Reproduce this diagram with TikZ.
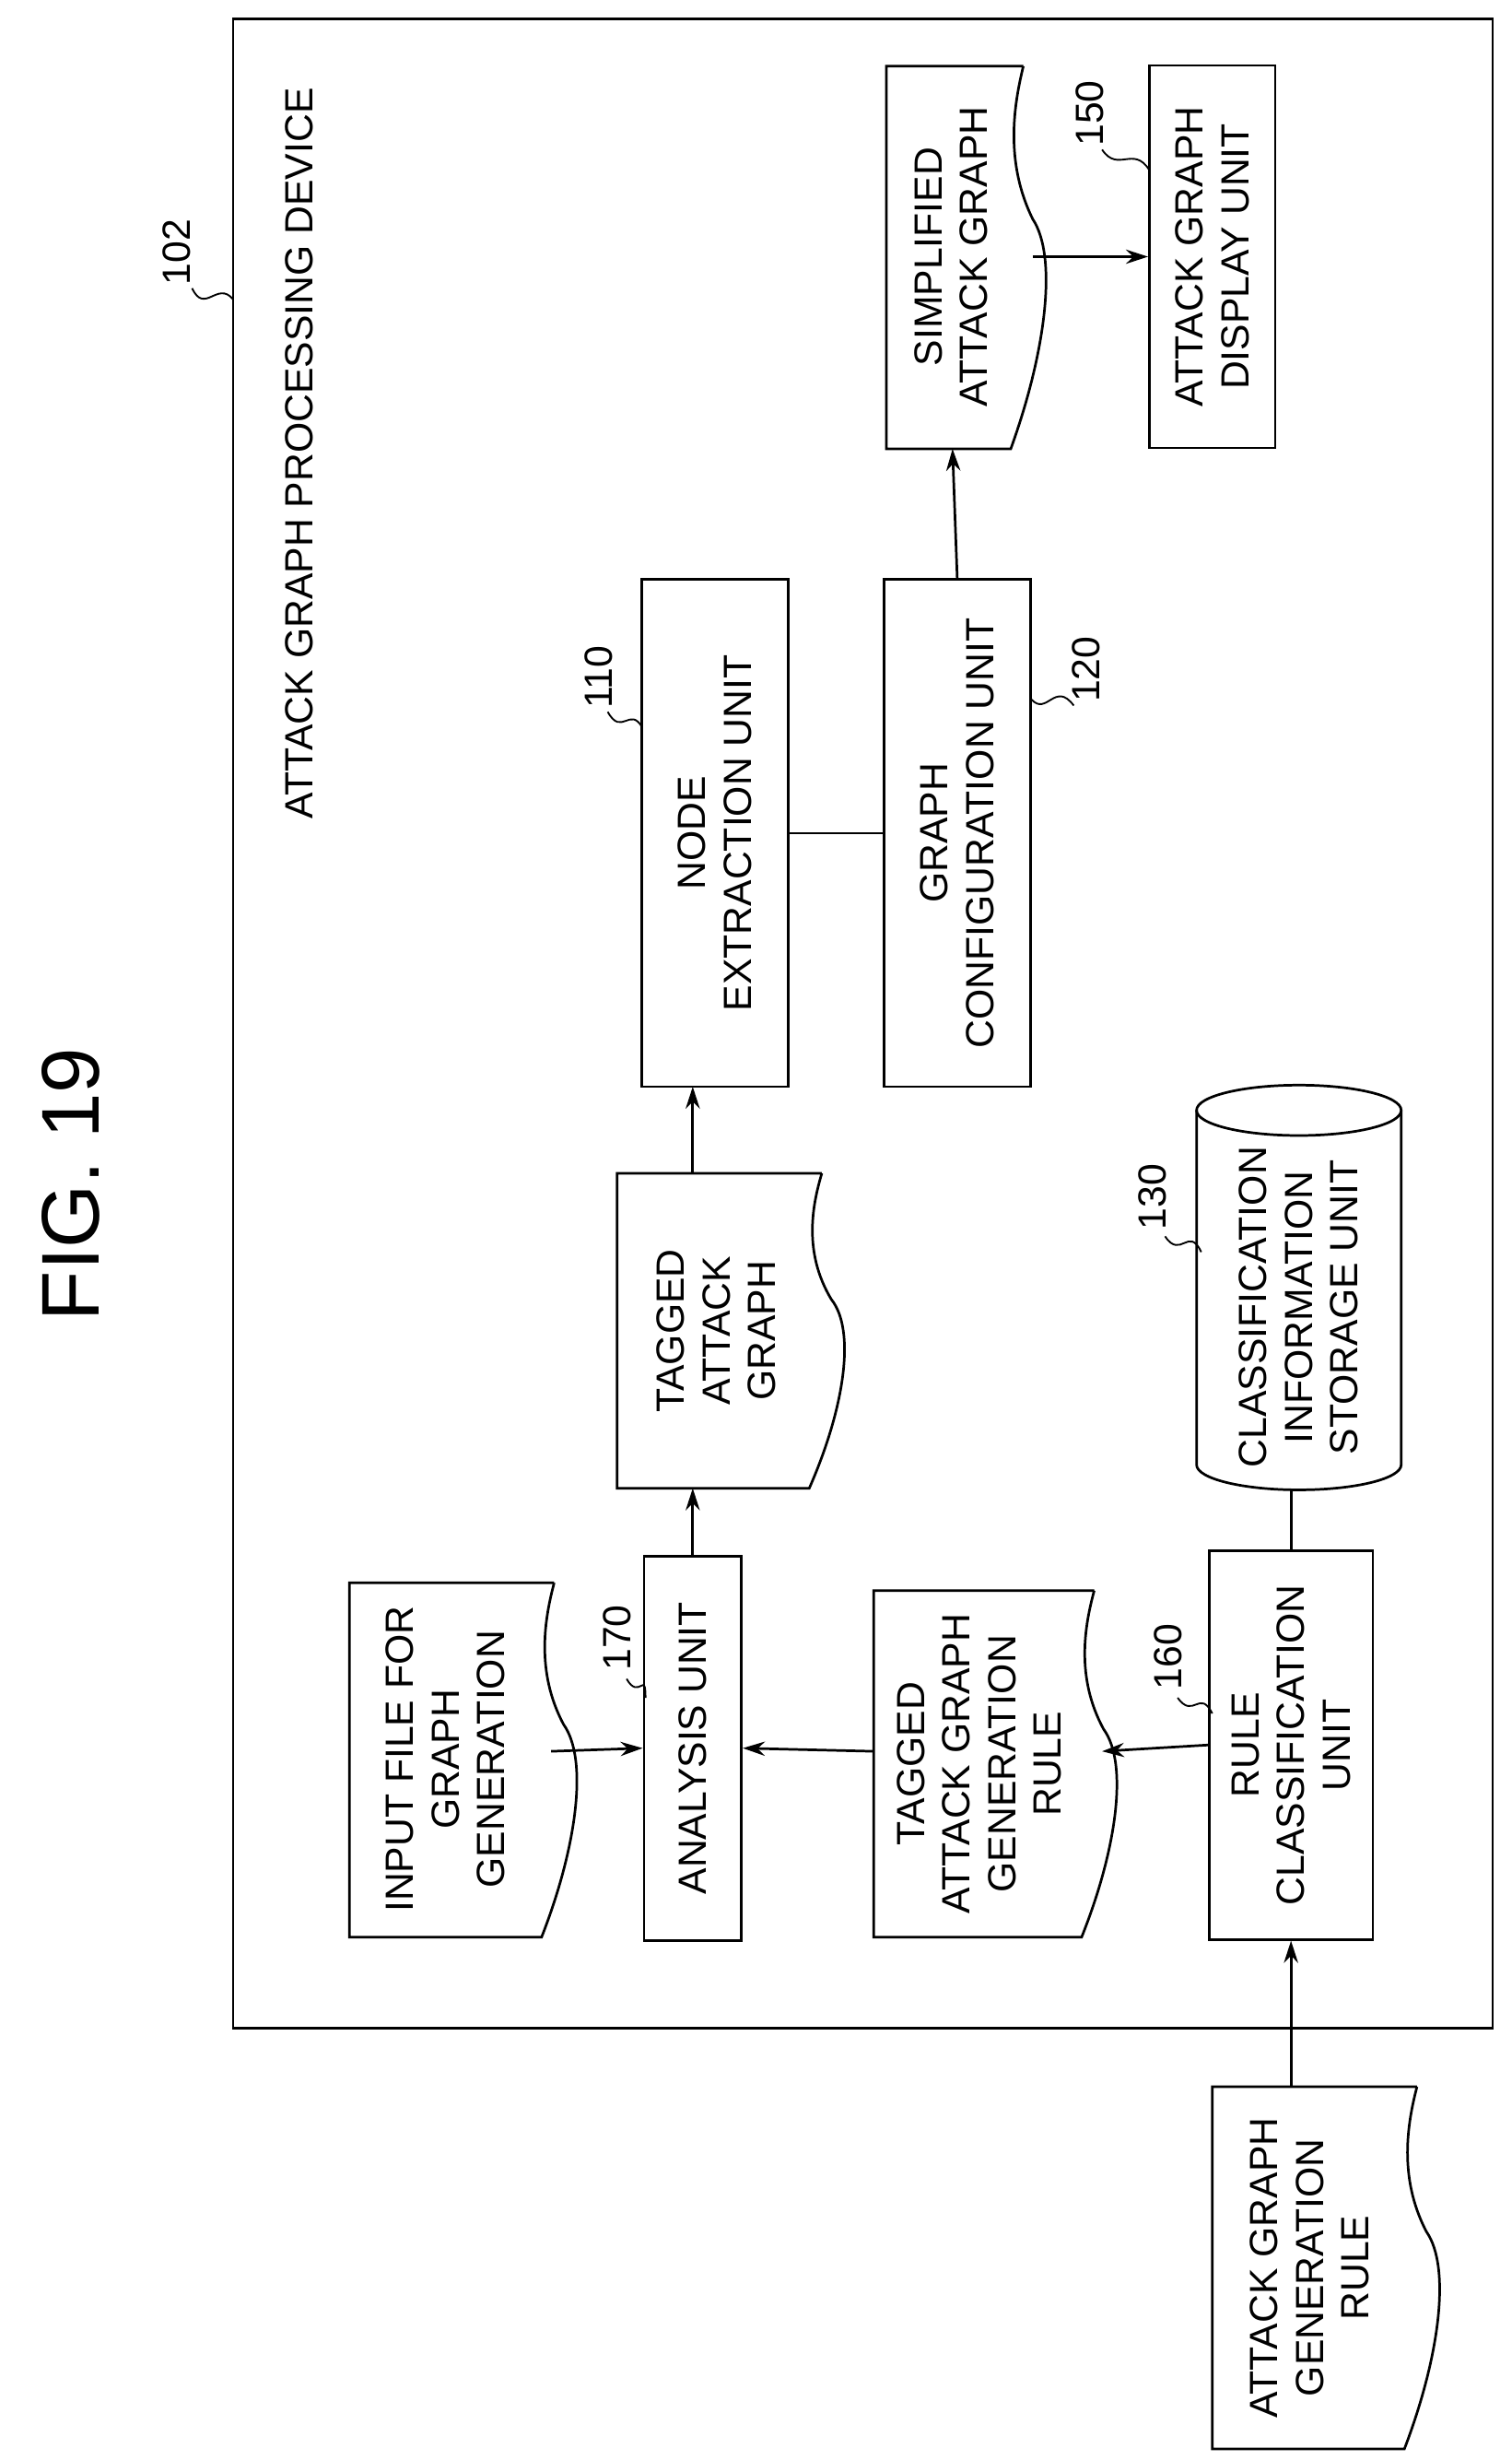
\documentclass[tikz,border=0pt]{standalone}
\usepackage{fontspec}
\setmainfont{Liberation Sans}
\usetikzlibrary{arrows.meta}
\begin{document}
\begin{tikzpicture}[x=1pt,y=-1pt,
  lw/.style={line width=1.6pt},
  box/.style={draw,lw,rotate=90,inner sep=0pt,align=center,font=\fontsize{25}{29}\selectfont},
  txt/.style={rotate=90,align=center,font=\fontsize{25}{29}\selectfont,inner sep=0pt},
  num/.style={rotate=90,font=\fontsize{25}{29}\selectfont,inner sep=0pt},
  arr/.style={lw,-{Stealth[length=14pt,width=9pt]}},
  lead/.style={line width=1.1pt}]
\useasboundingbox (0,0) rectangle (960,1562);
\newcommand{\docshp}[4]{%
  \draw[lw] (#3,#2) -- (#1,#2) -- (#1,#4) -- (#3-8,#4)
    .. controls ({#3+14},{#4-0.25*(#4-#2)}) and ({#3+22},{#4-0.5*(#4-#2)}) .. ({#3+6},{#4-0.6*(#4-#2)})
    .. controls ({#3-12},{#4-0.75*(#4-#2)}) and ({#3-6},{#2+0.1*(#4-#2)}) .. (#3,#2);}
% title
\node[rotate=90,font=\fontsize{52}{60}\selectfont,inner sep=0pt] (fig) at (45,752) {FIG. 19};
% outer box
\node[draw,lw,minimum width=800pt,minimum height=1276pt,inner sep=0pt] (dev) at (548,650) {};
\node[txt] (devlbl) at (190,288) {ATTACK GRAPH PROCESSING DEVICE};
\node[num] (n102) at (112,160) {102};
\draw[lead] (122,183) .. controls (130,200) and (138,178) .. (148,190);
% documents
\docshp{222}{1005}{352}{1230}
\node[txt] (input) at (283,1117) {INPUT FILE FOR\\GRAPH\\GENERATION};
\docshp{555}{1010}{695}{1230}
\node[txt] (tagrule) at (622,1120) {TAGGED\\ATTACK GRAPH\\GENERATION\\RULE};
\docshp{770}{1325}{900}{1555}
\node[txt] (agrule) at (832,1440) {ATTACK GRAPH\\GENERATION\\RULE};
\docshp{392}{745}{522}{945}
\node[txt] (tag) at (455,845) {TAGGED\\ATTACK\\GRAPH};
\docshp{563}{42}{650}{285}
\node[txt] (simp) at (604,163) {SIMPLIFIED\\ATTACK GRAPH};
% boxes
\node[box,minimum width=244pt,minimum height=62pt] (ana) at (440,1110) {ANALYSIS UNIT};
\node[box,minimum width=247pt,minimum height=104pt] (rule) at (820,1108) {RULE\\CLASSIFICATION\\UNIT};
\node[box,minimum width=322pt,minimum height=93pt] (node) at (454,529) {NODE\\EXTRACTION UNIT};
\node[box,minimum width=322pt,minimum height=93pt] (conf) at (608,529) {GRAPH\\CONFIGURATION UNIT};
\node[box,minimum width=243pt,minimum height=80pt] (disp) at (770,163) {ATTACK GRAPH\\DISPLAY UNIT};
% cylinder
\draw[lw] (825,705) ellipse (65 and 16);
\draw[lw] (760,705) -- (760,930) arc (180:0:65 and 16) -- (890,705);
\node[txt] (store) at (825,830) {CLASSIFICATION\\INFORMATION\\STORAGE UNIT};
% connectors
\coordinate (inR) at (350,1112);
\draw[arr] (inR) -- (ana.north);
\coordinate (trL) at (555,1112);
\draw[arr] (trL) -- (ana.south);
\coordinate (trR) at (700,1112);
\draw[arr] (rule.north) -- (trR);
\coordinate (agT) at (820,1325);
\draw[arr] (agT) -- (rule.west);
\coordinate (tagB) at (440,945);
\coordinate (tagT) at (440,745);
\draw[arr] (ana.east) -- (tagB);
\draw[arr] (tagT) -- (440,690);
\draw[lw] (node.south) -- (conf.north);
\coordinate (simB) at (605,285);
\draw[arr] (conf.east) -- (simB);
\coordinate (simR) at (656,163);
\draw[arr] (simR) -- (disp.north);
\coordinate (cylB) at (820,946);
\draw[lw] (rule.east) -- (cylB);
% reference numerals
\node[num] (n110) at (380,430) {110};
\draw[lead] (386,452) .. controls (395,468) and (400,448) .. (408,462);
\node[num] (n120) at (690,425) {120};
\draw[lead] (655,444) .. controls (665,455) and (670,432) .. (682,448);
\node[num] (n150) at (692,72) {150};
\draw[lead] (700,95) .. controls (710,110) and (720,92) .. (730,108);
\node[num] (n130) at (732,760) {130};
\draw[lead] (740,785) .. controls (750,800) and (755,778) .. (763,795);
\node[num] (n160) at (742,1052) {160};
\draw[lead] (748,1078) .. controls (758,1092) and (762,1072) .. (770,1088);
\node[num] (n170) at (392,1040) {170};
\draw[lead] (398,1066) .. controls (406,1080) and (410,1060) .. (410,1078);
\end{tikzpicture}
\end{document}
